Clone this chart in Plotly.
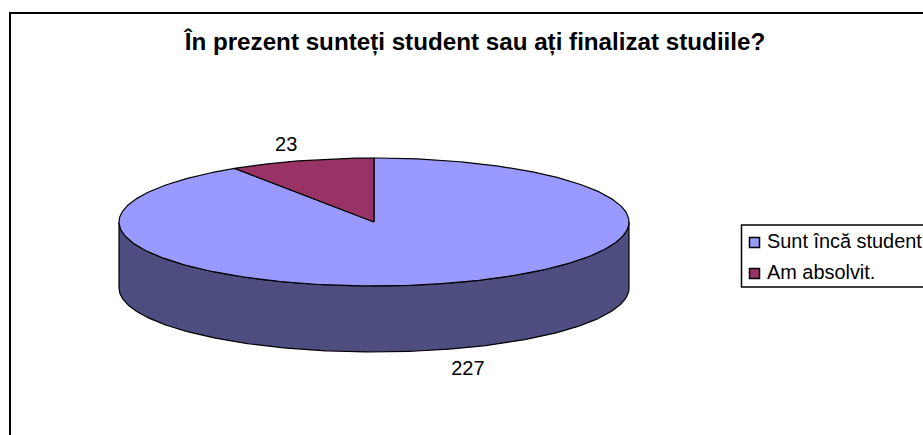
import numpy as np
import plotly.graph_objects as go

title = "În prezent sunteți student sau ați finalizat studiile?"
categories = ["Sunt încă student", "Am absolvit."]
values = [227, 23]
top_colors = ["#9999FF", "#993366"]
side_color = "#4D4D80"

W, H = 923, 435
cx, cy, rx, ry, depth = 374, 222, 255, 64, 66
total = sum(values)
FONT = "Liberation Sans"


def pt(a, dy=0.0, k=(1.0, 1.0)):
    a = np.radians(a)
    return cx + rx * k[0] * np.sin(a), cy + dy - ry * k[1] * np.cos(a)


fig = go.Figure()

# side wall: visible front half of the first slice
a = np.linspace(90, 270, 240)
xu, yu = pt(a)
xl, yl = pt(a[::-1], depth)
fig.add_trace(go.Scatter(
    x=np.r_[xu, xl, xu[0]], y=np.r_[yu, yl, yu[0]], mode="lines", fill="toself",
    fillcolor=side_color, line=dict(color="black", width=1.2),
    showlegend=False, hoverinfo="skip"))

# top faces, clockwise from 12 o'clock
start = 0.0
label_k = (1.25, 1.28)
for name, val, col in zip(categories, values, top_colors):
    sweep = val / total * 360
    a = np.linspace(start, start + sweep, 400)
    xa, ya = pt(a)
    fig.add_trace(go.Scatter(
        x=np.r_[cx, xa, cx], y=np.r_[cy, ya, cy], mode="lines", fill="toself",
        fillcolor=col, line=dict(color="black", width=1.2),
        showlegend=False, name=name, hoverinfo="skip"))
    mid = start + sweep / 2
    front = 90 < mid < 270
    lx, ly = pt(mid, depth if front else 0, label_k)
    fig.add_trace(go.Scatter(
        x=[lx + 3], y=[ly + 3], mode="text", text=[str(val)],
        textfont=dict(family=FONT, size=20, color="black"),
        textposition="middle center", showlegend=False, hoverinfo="skip"))
    start += sweep

# legend, laid out as in the reference (swatch close to the frame)
leg_x, leg_y0, leg_step = 754.5, 242.5, 31
for i, (name, col) in enumerate(zip(categories, top_colors)):
    fig.add_trace(go.Scatter(
        x=[leg_x], y=[leg_y0 + i * leg_step], mode="markers", name=name,
        marker=dict(symbol="square", size=10, color=col, line=dict(color="black", width=1.5)),
        showlegend=False, hoverinfo="name"))
    fig.add_annotation(x=767, y=leg_y0 - 2 + i * leg_step, xref="x", yref="y",
                       text=name, showarrow=False, xanchor="left", yanchor="middle",
                       align="left", xshift=-2,
                       font=dict(family=FONT, size=19.9, color="black"))

fig.update_layout(
    width=W, height=H, autosize=False,
    margin=dict(l=0, r=0, t=0, b=0, pad=0),
    paper_bgcolor="white", plot_bgcolor="white",
    showlegend=False,
    title=dict(text="<b>" + title + "</b>", x=475 / W, xanchor="center",
               y=1 - 41.5 / H, yanchor="middle",
               font=dict(family=FONT, size=24.2, color="black")),
    xaxis=dict(range=[0, W], visible=False, fixedrange=True),
    yaxis=dict(range=[H, 0], visible=False, fixedrange=True),
    shapes=[
        dict(type="rect", xref="x", yref="y", x0=10, y0=13, x1=W + 20, y1=H + 20,
             line=dict(color="black", width=2), layer="below"),
        dict(type="rect", xref="x", yref="y", x0=741.5, y0=225, x1=W + 20, y1=287,
             line=dict(color="black", width=1.5), layer="below"),
    ],
)

fig.write_html("out.html", config=dict(displayModeBar=False),
               post_script="document.body.style.margin='0';document.body.style.overflow='hidden';")
